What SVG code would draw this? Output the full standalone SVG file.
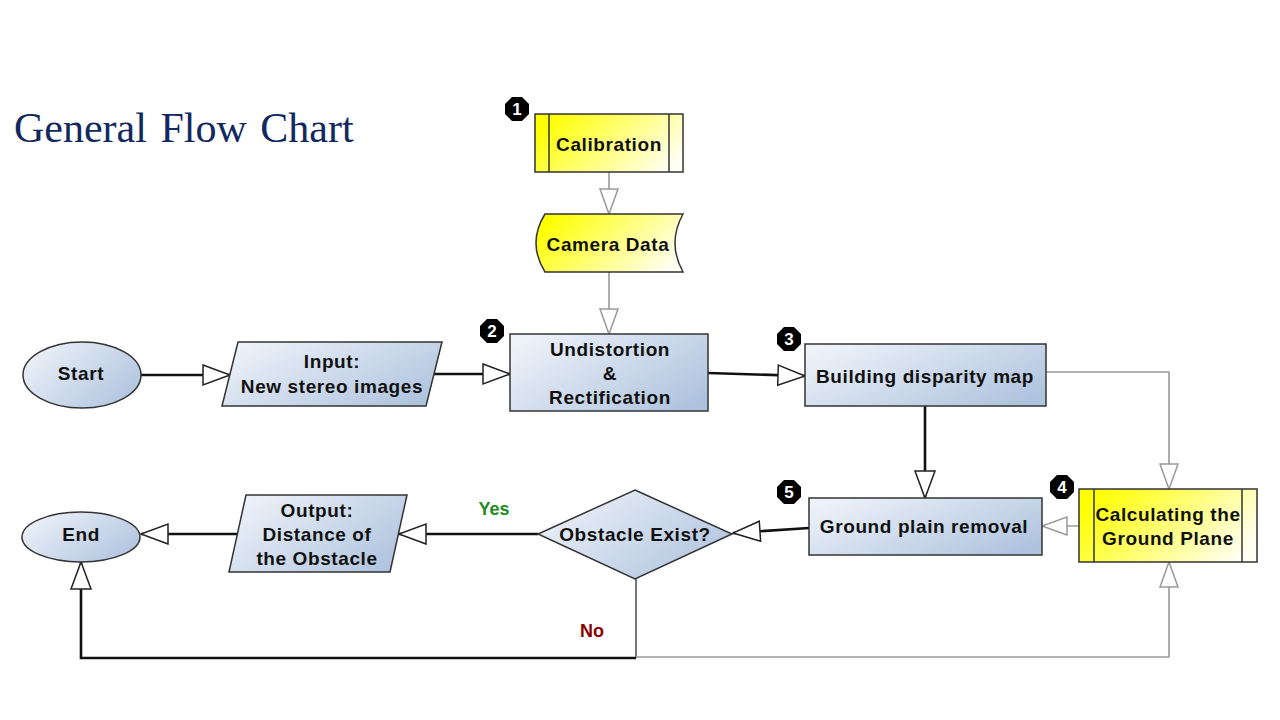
<svg xmlns="http://www.w3.org/2000/svg" width="1280" height="720" viewBox="0 0 1280 720">
<style>
.lbl{font-family:"Liberation Sans",Arial,sans-serif;font-weight:bold;font-size:19px;letter-spacing:0.6px;fill:#111;text-anchor:middle}
.shp{stroke:#333;stroke-width:1.5}
.blue{fill:url(#gBlue)}
.yel{fill:url(#gYel)}
.k{fill:none;stroke:#111;stroke-width:2.6;marker-end:url(#aK)}
.g{fill:none;stroke:#9a9a9a;stroke-width:1.6;marker-end:url(#aG)}
.badge{fill:#000}
.bnum{font-family:"Liberation Sans",Arial,sans-serif;font-weight:bold;font-size:17px;fill:#fff;text-anchor:middle}
</style>
<defs>
<linearGradient id="gBlue" x1="0" y1="0.2" x2="1" y2="0.8">
<stop offset="0" stop-color="#EDF2F9"/>
<stop offset="1" stop-color="#AFC3DE"/>
</linearGradient>
<linearGradient id="gYel" x1="0" y1="0.3" x2="1" y2="0.7">
<stop offset="0" stop-color="#FFFF00"/>
<stop offset="1" stop-color="#FFFFF2"/>
</linearGradient>
<marker id="aK" markerUnits="userSpaceOnUse" markerWidth="32" markerHeight="26" refX="29" refY="12" orient="auto">
<path d="M2,2 L29,12 L2,22 Z" fill="#fff" stroke="#222" stroke-width="1.5"/>
</marker>
<marker id="aG" markerUnits="userSpaceOnUse" markerWidth="30" markerHeight="24" refX="27" refY="11" orient="auto">
<path d="M2,2 L27,11 L2,20 Z" fill="#fff" stroke="#9a9a9a" stroke-width="1.5"/>
</marker>
<polygon id="oct" points="5,-12 12,-5 12,5 5,12 -5,12 -12,5 -12,-5 -5,-12"/>
</defs>
<rect width="1280" height="720" fill="#fff"/>
<text x="14" y="142" font-family="Liberation Serif,'Times New Roman',serif" font-size="42" word-spacing="3" fill="#12295F">General Flow Chart</text>

<g id="connectors">
<path class="g" d="M609,172 V214"/>
<path class="g" d="M609,272 V334"/>
<path class="k" d="M141,375 H230"/>
<path class="k" d="M432,374 H510"/>
<path class="k" d="M708,373 L805,376"/>
<path class="k" d="M925,406 V498"/>
<path class="g" d="M1046,372 H1169 V489"/>
<path class="g" d="M1079,526 H1042"/>
<path class="k" d="M809,528 L733,533"/>
<path class="k" d="M538,534 H399"/>
<path class="k" d="M237,534 H141"/>
<path d="M636,579 V658" fill="none" stroke="#777" stroke-width="2"/>
<path class="k" d="M636,658 H81 V562"/>
<path class="g" d="M636,657 H1169 V562"/>
<text x="494" y="515" font-family="Liberation Sans,Arial,sans-serif" font-weight="bold" font-size="18" fill="#1E8C1E" text-anchor="middle">Yes</text>
<text x="592" y="637" font-family="Liberation Sans,Arial,sans-serif" font-weight="bold" font-size="18" fill="#8B0000" text-anchor="middle">No</text>
</g>

<g id="calibration">
<rect class="shp yel" x="535" y="114" width="148" height="58"/>
<line class="shp" x1="549" y1="114" x2="549" y2="172"/>
<line class="shp" x1="669" y1="114" x2="669" y2="172"/>
<text class="lbl" x="609" y="151">Calibration</text>
</g>
<g id="badge1"><use href="#oct" x="517" y="109" class="badge"/><text class="bnum" x="517" y="115">1</text></g>

<g id="camera-data">
<path class="shp yel" d="M545,214 H683 Q667,243 683,272 H545 Q527,243 545,214 Z"/>
<text class="lbl" x="608" y="251">Camera Data</text>
</g>

<g id="start">
<ellipse class="shp blue" cx="82" cy="375" rx="59" ry="33"/>
<text class="lbl" x="81" y="380">Start</text>
</g>

<g id="input">
<polygon class="shp blue" points="238,342 442,342 426,406 222,406"/>
<text class="lbl" x="332" y="368">Input:</text>
<text class="lbl" x="332" y="393">New stereo images</text>
</g>

<g id="undistortion">
<rect class="shp blue" x="510" y="334" width="198" height="77"/>
<text class="lbl" x="610" y="356">Undistortion</text>
<text class="lbl" x="610" y="380">&amp;</text>
<text class="lbl" x="610" y="404">Rectification</text>
</g>
<g id="badge2"><use href="#oct" x="492" y="331" class="badge"/><text class="bnum" x="492" y="337">2</text></g>

<g id="disparity">
<rect class="shp blue" x="805" y="344" width="241" height="62"/>
<text class="lbl" x="925" y="383">Building disparity map</text>
</g>
<g id="badge3"><use href="#oct" x="789" y="339" class="badge"/><text class="bnum" x="789" y="345">3</text></g>

<g id="ground-removal">
<rect class="shp blue" x="809" y="498" width="233" height="57"/>
<text class="lbl" x="924" y="533">Ground plain removal</text>
</g>
<g id="badge5"><use href="#oct" x="789" y="492" class="badge"/><text class="bnum" x="789" y="498">5</text></g>

<g id="ground-plane">
<rect class="shp yel" x="1079" y="489" width="178" height="73"/>
<line class="shp" x1="1094" y1="489" x2="1094" y2="562"/>
<line class="shp" x1="1242" y1="489" x2="1242" y2="562"/>
<text class="lbl" x="1168" y="521">Calculating the</text>
<text class="lbl" x="1168" y="545">Ground Plane</text>
</g>
<g id="badge4"><use href="#oct" x="1062" y="487" class="badge"/><text class="bnum" x="1062" y="493">4</text></g>

<g id="decision">
<polygon class="shp blue" points="635,490 732,534 635,579 538,534"/>
<text class="lbl" x="635" y="541">Obstacle Exist?</text>
</g>

<g id="output">
<polygon class="shp blue" points="246,495 407,495 390,572 229,572"/>
<text class="lbl" x="317" y="517">Output:</text>
<text class="lbl" x="317" y="541">Distance of</text>
<text class="lbl" x="317" y="565">the Obstacle</text>
</g>

<g id="end">
<ellipse class="shp blue" cx="81" cy="537" rx="59" ry="25"/>
<text class="lbl" x="81" y="541">End</text>
</g>
</svg>
